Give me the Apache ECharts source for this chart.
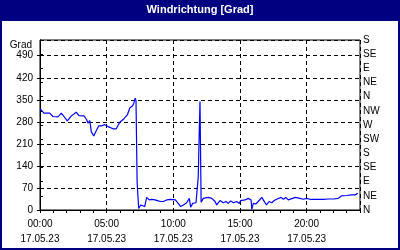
<!DOCTYPE html>
<html><head><meta charset="utf-8">
<script src="https://cdn.jsdelivr.net/npm/echarts@6/dist/echarts.min.js"></script>
<style>html,body{margin:0;padding:0;background:#fff}#c{width:400px;height:250px}</style>
</head><body><div id="c"></div>
<script>
var titleText = 'Windrichtung [Grad]';
var yName = 'Grad';
var dateLabel = '17.05.23';
var dirLabels = ['N','NE','E','SE','S','SW','W','NW','N','NE','E','SE','S'];
var times = ['00:00','00:09','00:18','00:44','00:58','01:21','01:36','01:48','02:03','02:21','02:33','02:43','02:55','03:03','03:18','03:28','03:36','03:44','03:51','04:02','04:13','04:24','04:36','04:51','05:06','05:14','05:29','05:43','05:59','06:18','06:33','06:44','06:50','06:57','07:03','07:08','07:12','07:17','07:24','07:33','07:42','07:51','08:00','08:12','08:23','08:38','08:52','09:03','09:15','09:30','09:39','09:48','09:57','10:09','10:22','10:33','10:45','11:00','11:12','11:18','11:27','11:42','11:52','11:57','12:00','12:05','12:15','12:37','12:53','13:08','13:15','13:30','13:45','13:57','14:07','14:18','14:30','14:45','14:57','15:03','15:23','15:37','15:45','15:50','15:53','16:00','16:11','16:22','16:38','16:45','16:59','17:11','17:23','17:34','17:45','17:52','18:05','18:15','18:26','18:37','18:45','18:56','19:08','19:30','19:45','20:00','20:15','20:22','20:30','20:45','21:15','21:37','22:00','22:22','22:38','23:00','23:23','23:38','23:50'];
var values = [322,327,308,308,297,296,308,297,283,299,305,311,300,299,299,289,276,284,248,235,252,267,267,271,265,271,258,258,279,290,302,324,330,331,341,355,348,90,5,16,11,11,40,32,34,32,29,27,27,32,27,34,29,32,21,11,16,23,37,9,21,23,104,260,345,25,37,40,37,27,16,30,23,27,21,29,23,27,21,30,32,37,40,32,2,21,19,27,40,34,16,27,23,30,34,37,40,34,40,32,30,37,40,37,34,37,34,30,34,34,34,35,35,37,45,46,48,48,53];

function toH(t){var p=t.split(':');return (+p[0])+(+p[1])/60;}
var data = times.map(function(t,i){return [toH(t), values[i]];});
function pad(n){return (n<10?'0':'')+n;}

var font = 'Liberation Sans';
var chart = echarts.init(document.getElementById('c'), null, {renderer:'canvas'});
chart.setOption({
  animation:false,
  backgroundColor:'#fff',
  textStyle:{fontFamily:font},
  graphic:[
    {type:'rect', shape:{x:0,y:0,width:400,height:20}, style:{fill:'#000080'}, z:10},
    {type:'rect', shape:{x:1,y:20,width:398,height:229}, style:{fill:'none',stroke:'#000080',lineWidth:2}, z:10},
    {type:'text', x:200, y:10, style:{text:titleText, fill:'#fff', font:'bold 11px '+font, textAlign:'center', textVerticalAlign:'middle'}, z:11}
  ],
  grid:{left:40,right:40,top:40,bottom:40,show:true,borderColor:'#000',borderWidth:1,backgroundColor:'transparent'},
  xAxis:[
    {type:'value',min:0,max:24,interval:5,position:'bottom',
     axisLine:{show:true,lineStyle:{color:'#000',width:1}},
     axisTick:{show:false},
     splitLine:{show:true,lineStyle:{color:'#000',type:[4,3],width:1}},
     axisLabel:{color:'#000',fontSize:10,lineHeight:15,margin:7,fontFamily:font,
       formatter:function(v){return (v%5===0&&v<24)?pad(v)+':00\n'+dateLabel:'';}}},
    {type:'value',min:0,max:24,interval:1,position:'bottom',
     axisLine:{show:false},
     axisTick:{show:true,length:3,lineStyle:{color:'#000'}},
     splitLine:{show:false},axisLabel:{show:false}}
  ],
  yAxis:[
    {type:'value',min:0,max:540,interval:70,position:'left',
     name:yName,nameLocation:'end',nameGap:-5,
     nameTextStyle:{color:'#000',fontSize:10,align:'right',verticalAlign:'middle',padding:[0,8,0,0],fontFamily:font},
     axisLine:{show:true,lineStyle:{color:'#000'}},
     axisTick:{show:true,length:3,lineStyle:{color:'#000'}},
     splitLine:{show:true,lineStyle:{color:'#000',type:[4,3],width:1}},
     axisLabel:{color:'#000',fontSize:10,margin:7,fontFamily:font,showMaxLabel:false,
       formatter:function(v){return v>490?'':String(v);}}},
    {type:'value',min:0,max:540,interval:45,position:'right',
     axisLine:{show:true,lineStyle:{color:'#000'}},
     axisTick:{show:true,length:3,lineStyle:{color:'#000'}},
     splitLine:{show:false},
     axisLabel:{color:'#000',fontSize:10,margin:3,fontFamily:font,
       formatter:function(v){return dirLabels[Math.round(v/45)];}}}
  ],
  series:[{type:'line',data:data,xAxisIndex:0,yAxisIndex:0,showSymbol:false,symbol:'none',
    lineStyle:{color:'#0000ff',width:1.2},itemStyle:{color:'#0000ff'}}]
});
</script></body></html>
